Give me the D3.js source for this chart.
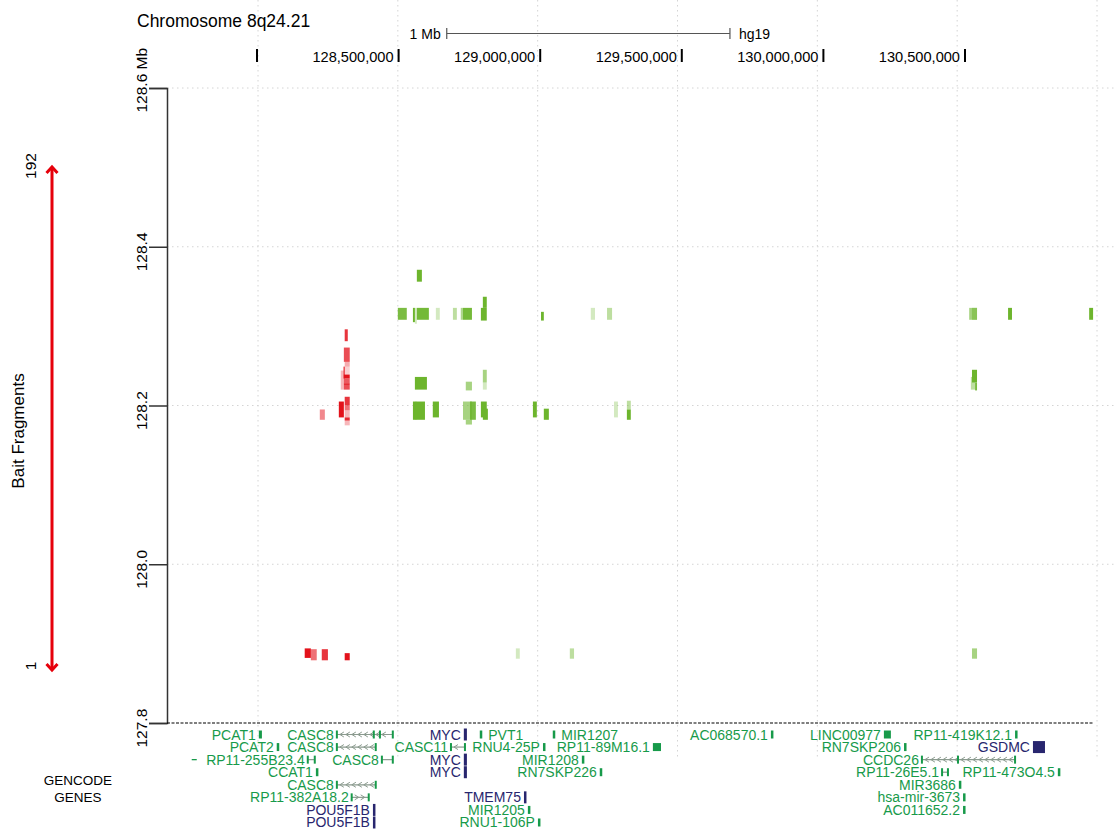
<!DOCTYPE html>
<html lang="en">
<head>
    <meta charset="utf-8">
    <title>Chromosome 8q24.21</title>
    <script type="text/javascript" src="https://d3js.org/d3.v7.min.js"></script>
    <style>
     body { margin: 0; background: #fff; }
     svg text { font-family: "Liberation Sans", Arial, sans-serif; fill: #000; }
     .grid line { stroke: #d4d4d4; stroke-dasharray: 1.5,3.5; }
    </style>
</head>
<body>
    <div id="chart"></div>
    <script type="text/javascript">
        const width = 1116;
        const height = 829;

        // top genome axis (hg19)
        const topTicks = [128.0, 128.5, 129.0, 129.5, 130.0, 130.5];
        const topTickLabels = ["", "128,500,000", "129,000,000", "129,500,000", "130,000,000", "130,500,000"];
        const scaleBarStart = 128.67;
        const scaleBarLength = 1;

        // main panel axes
        const yTicks = [127.8, 128.0, 128.2, 128.4, 128.6];
        const yTickLabels = ["127.8", "128.0", "128.2", "128.4", "128.6 Mb"];
        const gridX = [128.0, 128.5, 129.0, 129.5, 130.0, 130.5, 131.0];
        const gridY = [128.0, 128.2, 128.4, 128.6];
        const baitLabels = ["1", "192"];

        // interactions: [target from, target to, bait from, bait to, alpha] (Mb)
        const redLinks = [
            [128.310, 128.321, 128.281, 128.296, 0.85],
            [128.307, 128.328, 128.255, 128.273, 0.75],
            [128.310, 128.328, 128.249, 128.255, 0.35],
            [128.310, 128.328, 128.239, 128.249, 0.2],
            [128.296, 128.307, 128.220, 128.244, 0.3],
            [128.306, 128.310, 128.234, 128.249, 1],
            [128.307, 128.328, 128.234, 128.239, 1],
            [128.307, 128.328, 128.228, 128.234, 0.7],
            [128.307, 128.328, 128.226, 128.228, 1],
            [128.307, 128.328, 128.220, 128.226, 0.75],
            [128.289, 128.307, 128.185, 128.205, 1],
            [128.310, 128.328, 128.200, 128.211, 0.85],
            [128.310, 128.328, 128.194, 128.200, 0.6],
            [128.310, 128.328, 128.185, 128.194, 0.3],
            [128.310, 128.328, 128.181, 128.185, 0.9],
            [128.310, 128.328, 128.175, 128.181, 0.3],
            [128.221, 128.239, 128.182, 128.195, 0.5],
            [128.167, 128.189, 127.882, 127.894, 1],
            [128.189, 128.210, 127.879, 127.893, 0.6],
            [128.228, 128.250, 127.879, 127.893, 0.85],
            [128.310, 128.328, 127.879, 127.888, 1]
        ];
        const greenLinks = [
            [128.568, 128.586, 128.356, 128.371, 1],
            [128.500, 128.532, 128.308, 128.323, 0.9],
            [128.554, 128.561, 128.305, 128.323, 1],
            [128.561, 128.568, 128.303, 128.323, 0.3],
            [128.568, 128.611, 128.308, 128.323, 0.95],
            [128.636, 128.650, 128.308, 128.323, 0.3],
            [128.697, 128.711, 128.308, 128.323, 0.45],
            [128.725, 128.733, 128.308, 128.323, 0.55],
            [128.733, 128.765, 128.308, 128.323, 0.95],
            [128.797, 128.818, 128.307, 128.323, 1],
            [128.804, 128.818, 128.323, 128.337, 1],
            [129.012, 129.022, 128.307, 128.318, 1],
            [129.190, 129.205, 128.308, 128.323, 0.3],
            [129.248, 129.266, 128.308, 128.323, 0.45],
            [128.561, 128.604, 128.220, 128.236, 1],
            [128.743, 128.765, 128.219, 128.230, 0.6],
            [128.804, 128.818, 128.229, 128.245, 0.6],
            [128.804, 128.818, 128.220, 128.229, 0.3],
            [128.554, 128.597, 128.182, 128.205, 1],
            [128.561, 128.568, 128.182, 128.205, 0.3],
            [128.625, 128.647, 128.185, 128.205, 1],
            [128.733, 128.765, 128.182, 128.205, 0.6],
            [128.758, 128.779, 128.182, 128.205, 0.9],
            [128.743, 128.765, 128.176, 128.182, 0.6],
            [128.797, 128.818, 128.185, 128.205, 1],
            [128.804, 128.822, 128.182, 128.196, 1],
            [128.983, 128.997, 128.185, 128.205, 1],
            [129.022, 129.040, 128.182, 128.196, 1],
            [129.273, 129.287, 128.185, 128.205, 0.3],
            [129.319, 129.333, 128.195, 128.206, 0.45],
            [129.319, 129.333, 128.182, 128.195, 1],
            [128.922, 128.936, 127.881, 127.894, 0.3],
            [129.115, 129.130, 127.881, 127.894, 0.45],
            [130.553, 130.571, 127.881, 127.894, 0.6],
            [130.543, 130.571, 128.308, 128.323, 0.6],
            [130.553, 130.571, 128.308, 128.323, 0.5],
            [130.682, 130.696, 128.308, 128.323, 1],
            [130.972, 130.986, 128.308, 128.323, 1],
            [130.553, 130.571, 128.229, 128.245, 1],
            [130.549, 130.564, 128.220, 128.236, 0.45],
            [130.564, 130.571, 128.219, 128.229, 0.9]
        ];

        // GENCODE genes
        const geneNames = ["PCAT1", "CASC8", "MYC", "PVT1", "MIR1207", "AC068570.1", "LINC00977", "RP11-419K12.1",
            "PCAT2", "CASC8", "CASC11", "RNU4-25P", "RP11-89M16.1", "RN7SKP206", "GSDMC",
            "-", "RP11-255B23.4", "CASC8", "MYC", "MIR1208", "CCDC26",
            "CCAT1", "MYC", "RN7SKP226", "RP11-26E5.1", "RP11-473O4.5",
            "CASC8", "MIR3686",
            "RP11-382A18.2", "TMEM75", "hsa-mir-3673",
            "POU5F1B", "MIR1205", "AC011652.2",
            "POU5F1B", "RNU1-106P"];
        const geneStart = [128.003, 128.282, 128.736, 128.793, 129.054, 129.834, 130.238, 130.707,
            128.067, 128.282, 128.690, 129.019, 129.412, 130.310, 130.771,
            127.763, 128.178, 128.443, 128.736, 129.158, 130.374,
            128.207, 128.736, 129.222, 130.446, 130.860,
            128.282, 130.506,
            128.335, 128.951, 130.521,
            128.411, 128.965, 130.521,
            128.411, 129.001];
        const geneEnd = [128.014, 128.482, 128.747, 128.797, 129.062, 129.841, 130.263, 130.714,
            128.074, 128.421, 128.740, 129.026, 129.441, 130.317, 130.814,
            127.781, 128.203, 128.482, 128.747, 129.165, 130.707,
            128.214, 128.747, 129.230, 130.467, 130.866,
            128.421, 130.513,
            128.396, 128.958, 130.528,
            128.416, 128.972, 130.528,
            128.416, 129.008];
        const geneRow = [0, 0, 0, 0, 0, 0, 0, 0,
            1, 1, 1, 1, 1, 1, 1,
            2, 2, 2, 2, 2, 2,
            3, 3, 3, 3, 3,
            4, 4,
            5, 5, 5,
            6, 6, 6,
            7, 7];
        // R = label right of the mark
        const geneSide = ["L", "L", "L", "R", "R", "L", "L", "L",
            "L", "L", "L", "L", "L", "L", "L",
            "L", "L", "L", "L", "L", "L",
            "L", "L", "L", "L", "L",
            "L", "L",
            "L", "L", "L",
            "L", "L", "L",
            "L", "L"];
        const geneCoding = ["MYC", "GSDMC", "TMEM75", "POU5F1B"];
        // 0 = box, -1/1 = strand line with arrows, 2 = line no arrows, 3 = dash
        const geneShape = [0, -1, 0, 0, 0, 0, 0, 0,
            0, -1, -1, 0, 0, 0, 0,
            3, 2, 2, 0, 0, -1,
            0, 0, 0, 2, 0,
            -1, 0,
            1, 0, 0,
            0, 0, 0,
            0, 0];
        const geneExons = {1: [128.414, 128.436], 20: [130.503]};

        const svg = d3.select("#chart")
            .append("svg")
            .attr("width", width)
            .attr("height", height)
            .attr("viewBox", [0, 0, width, height]);

        const xScale = d3.scaleLinear().domain([128.0, 131.0]).range([258, 1097]);
        const topScale = d3.scaleLinear().domain([128.0, 130.5]).range([257, 965]);
        const yScale = d3.scaleLinear().domain([127.8, 128.6]).range([723, 88]);
        const plotLeft = 167;

        // grid
        const grid = svg.append("g").attr("class", "grid");
        grid.selectAll(".gx").data(gridX).enter().append("line")
            .attr("x1", d => xScale(d)).attr("x2", d => xScale(d))
            .attr("y1", 0).attr("y2", 757);
        grid.selectAll(".gy").data(gridY).enter().append("line")
            .attr("x1", plotLeft).attr("x2", width)
            .attr("y1", d => yScale(d)).attr("y2", d => yScale(d));

        // title + scale bar
        svg.append("text").attr("x", 137).attr("y", 27)
            .style("font-size", "17.5px").text("Chromosome 8q24.21");

        const sb0 = topScale(scaleBarStart), sb1 = topScale(scaleBarStart + scaleBarLength);
        const sb = svg.append("g").attr("stroke", "#555").attr("stroke-width", 1.2);
        sb.append("line").attr("x1", sb0).attr("x2", sb1).attr("y1", 33.5).attr("y2", 33.5);
        sb.append("line").attr("x1", sb0).attr("x2", sb0).attr("y1", 28).attr("y2", 39);
        sb.append("line").attr("x1", sb1).attr("x2", sb1).attr("y1", 28).attr("y2", 39);
        svg.append("text").attr("x", sb0 - 6).attr("y", 38.5).attr("text-anchor", "end")
            .style("font-size", "14px").text(scaleBarLength + " Mb");
        svg.append("text").attr("x", sb1 + 9).attr("y", 38.5)
            .style("font-size", "14px").text("hg19");

        // top axis
        const topAxis = svg.append("g");
        topAxis.selectAll("line").data(topTicks).enter().append("line")
            .attr("x1", d => topScale(d)).attr("x2", d => topScale(d))
            .attr("y1", 49).attr("y2", 62)
            .attr("stroke", "#000").attr("stroke-width", 2);
        topAxis.selectAll("text").data(topTicks).enter().append("text")
            .attr("x", d => topScale(d) - 5).attr("y", 62)
            .attr("text-anchor", "end").style("font-size", "14.6px")
            .text((d, i) => topTickLabels[i]);

        // y axis
        const yAxis = d3.axisLeft(yScale).tickValues(yTicks).tickSize(18)
            .tickFormat((d, i) => yTickLabels[i]);
        const yg = svg.append("g")
            .attr("transform", "translate(" + plotLeft + ",0)")
            .call(yAxis);
        yg.select(".domain").attr("stroke", "#333").attr("stroke-width", 1.5);
        yg.selectAll(".tick line").attr("stroke", "#333").attr("stroke-width", 1.5);
        yg.selectAll(".tick text")
            .attr("x", null).attr("dy", null)
            .attr("transform", "translate(-20,24) rotate(-90)")
            .attr("text-anchor", "start")
            .style("font-size", "15.5px");

        // dashed baseline
        svg.append("line")
            .attr("x1", plotLeft).attr("x2", xScale(130.986))
            .attr("y1", yScale(127.8)).attr("y2", yScale(127.8))
            .attr("stroke", "#000").attr("stroke-width", 1.2)
            .attr("stroke-dasharray", "3,1.5");

        // interactions
        function drawLinks(data, colour) {
            svg.append("g").selectAll("rect").data(data).enter().append("rect")
                .attr("x", d => xScale(d[0]))
                .attr("width", d => xScale(d[1]) - xScale(d[0]))
                .attr("y", d => yScale(d[3]))
                .attr("height", d => yScale(d[2]) - yScale(d[3]))
                .attr("fill", colour)
                .attr("fill-opacity", d => d[4]);
        }
        drawLinks(redLinks, "#e3121b");
        drawLinks(greenLinks, "#6db52d");

        // bait fragment arrow
        const baitTop = 166, baitBottom = 671, arrowX = 52;
        const arr = svg.append("g").attr("stroke", "#e6000b").attr("stroke-width", 3)
            .attr("fill", "none");
        arr.append("line").attr("x1", arrowX).attr("x2", arrowX).attr("y1", baitTop + 1).attr("y2", baitBottom - 1);
        arr.append("path").attr("d", `M${arrowX - 5.5},${baitTop + 7}L${arrowX},${baitTop + 1}L${arrowX + 5.5},${baitTop + 7}`);
        arr.append("path").attr("d", `M${arrowX - 5.5},${baitBottom - 7}L${arrowX},${baitBottom - 1}L${arrowX + 5.5},${baitBottom - 7}`);
        svg.append("text").attr("transform", `translate(36,${baitBottom - 5}) rotate(-90)`)
            .attr("text-anchor", "middle").style("font-size", "15.5px").text(baitLabels[0]);
        svg.append("text").attr("transform", `translate(36,${baitTop}) rotate(-90)`)
            .attr("text-anchor", "middle").style("font-size", "15.5px").text(baitLabels[1]);
        svg.append("text").attr("transform", "translate(24,431) rotate(-90)")
            .attr("text-anchor", "middle").style("font-size", "17px").text("Bait Fragments");

        // gene track
        svg.append("text").attr("x", 78).attr("y", 785).attr("text-anchor", "middle")
            .style("font-size", "13.5px").text("GENCODE");
        svg.append("text").attr("x", 78).attr("y", 802).attr("text-anchor", "middle")
            .style("font-size", "13.5px").text("GENES");

        const rowY = r => 734.5 + r * 12.57;
        const genes = geneNames.map((n, i) => ({
            name: n, s: geneStart[i], e: geneEnd[i], row: geneRow[i],
            side: geneSide[i], shape: geneShape[i], exons: geneExons[i] || [],
            colour: geneCoding.includes(n) ? "#28266e" : "#179a4a"
        }));
        const gg = svg.append("g");
        genes.forEach(g => {
            const y = rowY(g.row);
            const x0 = xScale(g.s), x1 = xScale(g.e);
            const h = g.colour === "#28266e" ? 12 : 8;
            if (g.shape === 0) {
                gg.append("rect").attr("x", x0).attr("y", y - h / 2)
                    .attr("width", Math.max(x1 - x0, 2.5)).attr("height", h)
                    .attr("fill", g.colour);
            } else if (g.shape === 3) {
                gg.append("line").attr("x1", x0).attr("x2", x1).attr("y1", y).attr("y2", y)
                    .attr("stroke", g.colour).attr("stroke-width", 1.3);
            } else {
                gg.append("line").attr("x1", x0).attr("x2", x1).attr("y1", y).attr("y2", y)
                    .attr("stroke", "#8a9a8e").attr("stroke-width", 1.2);
                if (g.shape === 1 || g.shape === -1) {
                    for (let ax = x0 + 5; ax < x1 - 3; ax += 6) {
                        const dir = g.shape;
                        gg.append("path")
                            .attr("d", `M${ax - 2 * dir},${y - 2.5}L${ax + 2 * dir},${y}L${ax - 2 * dir},${y + 2.5}`)
                            .attr("fill", "none").attr("stroke", "#8a9a8e").attr("stroke-width", 1);
                    }
                }
                [g.s, g.e].concat(g.exons).forEach(p => {
                    gg.append("rect").attr("x", xScale(p) - 1).attr("y", y - 4)
                        .attr("width", 2).attr("height", 8).attr("fill", g.colour);
                });
            }
            if (g.shape !== 3) {
                gg.append("text")
                    .attr("x", g.side === "L" ? x0 - 3 : Math.max(x1, x0 + 2.5) + 6)
                    .attr("y", y + 5)
                    .attr("text-anchor", g.side === "L" ? "end" : "start")
                    .style("font-size", "14px")
                    .style("fill", g.colour)
                    .text(g.name);
            }
        });
    </script>
</body>
</html>
